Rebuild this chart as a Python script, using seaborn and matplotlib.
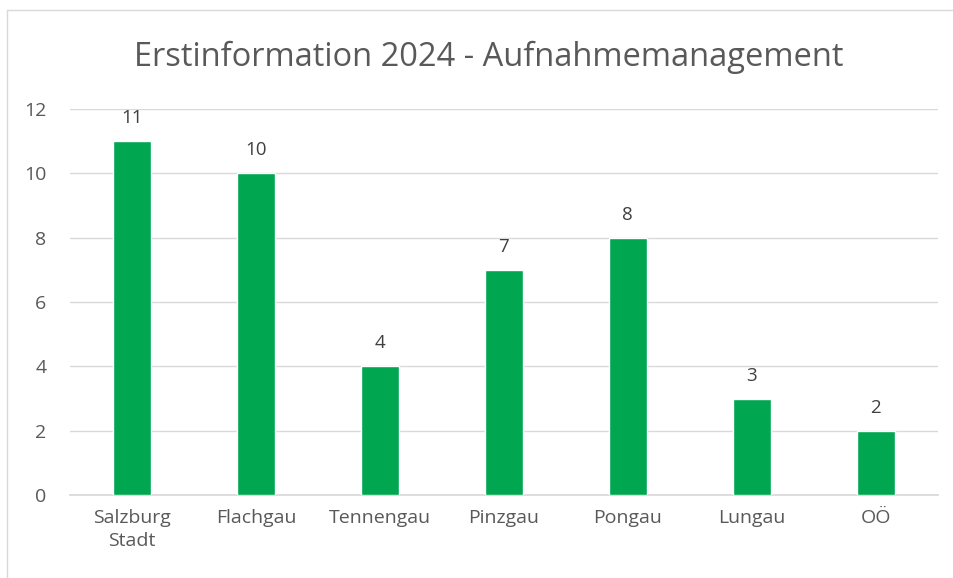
import matplotlib
matplotlib.use("Agg")
import matplotlib.pyplot as plt
import seaborn as sns
import pandas as pd
from matplotlib.lines import Line2D

regions = ["Salzburg\nStadt", "Flachgau", "Tennengau", "Pinzgau", "Pongau", "Lungau", "OÖ"]
counts = [11, 10, 4, 7, 8, 3, 2]
yticks = [0, 2, 4, 6, 8, 10, 12]

sns.set_theme(style="white")
plt.rcParams["font.family"] = ["Open Sans", "DejaVu Sans"]

df = pd.DataFrame({"Region": regions, "Anzahl": counts})

fig = plt.figure(figsize=(9.54, 5.78), dpi=100)
ax = fig.add_axes([0.0734, 0.1436, 0.9096, 0.6678])

sns.barplot(data=df, x="Region", y="Anzahl", color="#00A650", width=0.31,
            saturation=1, ax=ax, zorder=3)

ax.set_ylim(0, 12)
ax.set_yticks(yticks)
ax.set_xlim(-0.5, len(regions) - 0.5)
ax.yaxis.grid(True, color="#D9D9D9", linewidth=1, zorder=0)
for s in ["top", "right", "left"]:
    ax.spines[s].set_visible(False)
ax.spines["bottom"].set_color("#D9D9D9")
ax.tick_params(axis="both", length=0, labelsize=14, colors="#595959")
ax.tick_params(axis="y", pad=17)
ax.tick_params(axis="x", pad=10)
for t in ax.get_xticklabels():
    t.set_linespacing(1.4)
ax.set_xlabel("")
ax.set_ylabel("")

for c in ax.containers:
    ax.bar_label(c, padding=10, fontsize=13.5, color="#404040")

fig.text(0.512, 0.9, "Erstinformation 2024 - Aufnahmemanagement", ha="center",
         va="center", fontsize=23.5, color="#595959")

# chart frame (only left and top edges visible in the crop)
fig.add_artist(Line2D([0.0078, 0.0078], [0, 0.983], transform=fig.transFigure,
                      color="#D9D9D9", linewidth=1))
fig.add_artist(Line2D([0.0078, 1], [0.983, 0.983], transform=fig.transFigure,
                      color="#D9D9D9", linewidth=1))

fig.savefig("out.png", dpi=100)
